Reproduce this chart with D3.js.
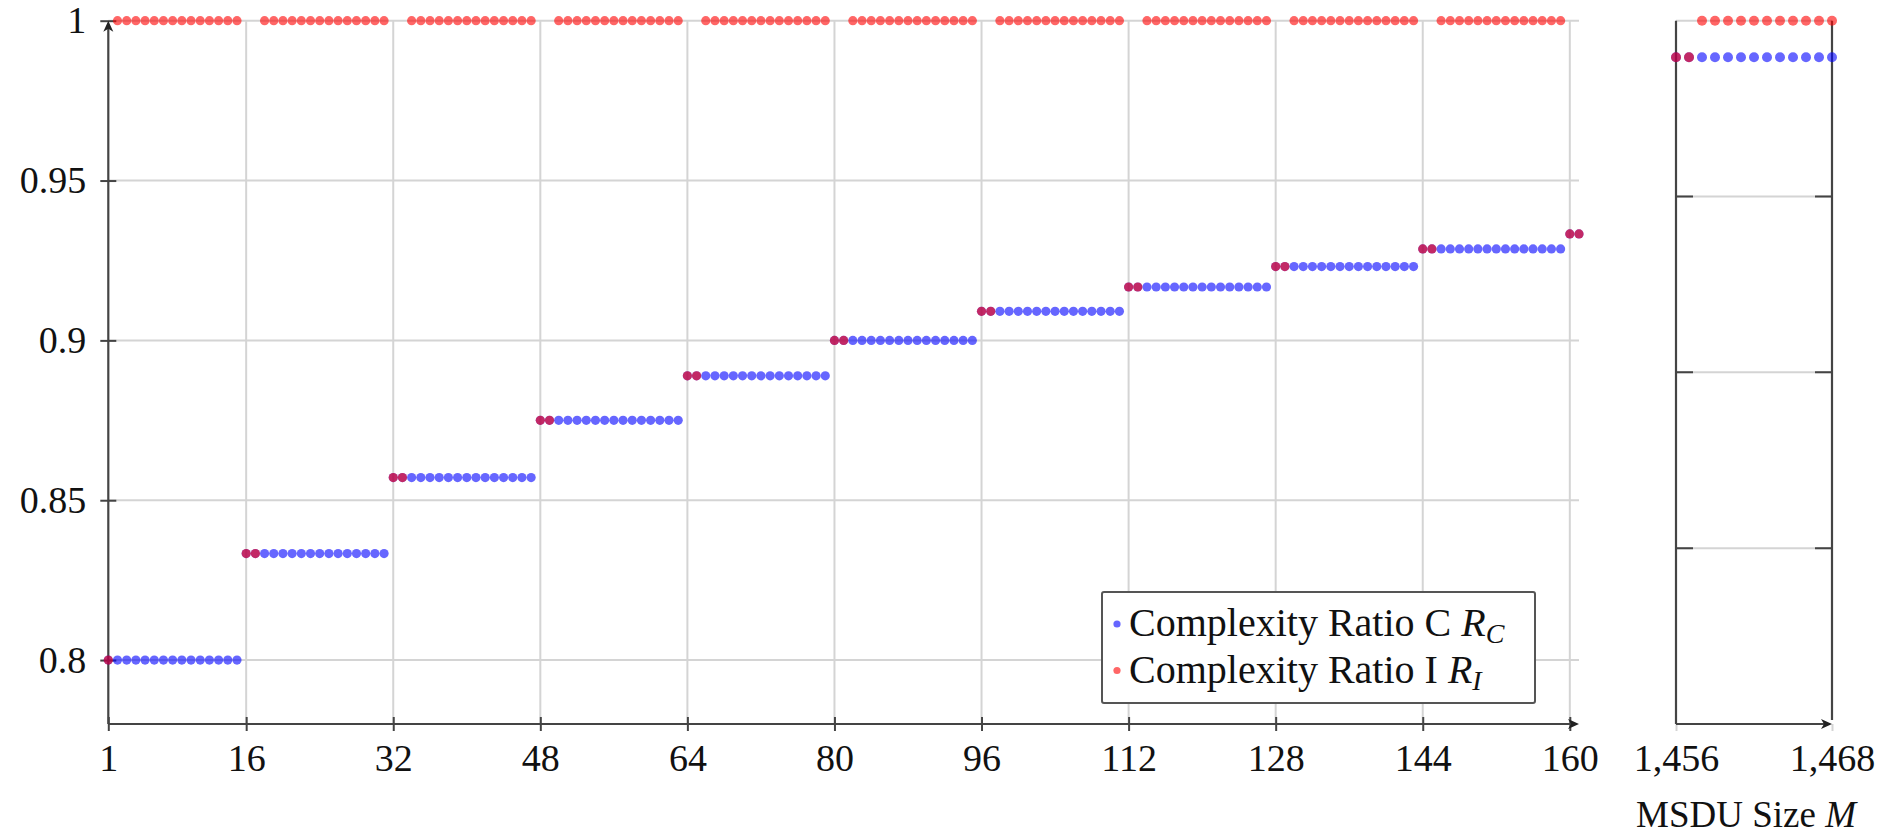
<!DOCTYPE html>
<html>
<head>
<meta charset="utf-8">
<script src="https://cdn.jsdelivr.net/npm/d3@7"></script>
<style>
  body { margin: 0; background: #fff; }
  svg text { font-family: "Liberation Serif", "Times New Roman", serif; }
</style>
</head>
<body>
<svg width="1886" height="837"></svg>
<script>
// main panel: each step block of M (first M, last M) and its ratio level
const blockStart = [1, 16, 32, 48, 64, 80, 96, 112, 128, 144, 160];
const blockEnd = [15, 31, 47, 63, 79, 95, 111, 127, 143, 159, 161];
const ratioC = [0.8, 0.8333, 0.8571, 0.875, 0.8889, 0.9, 0.9091, 0.9167, 0.9231, 0.9286, 0.9333];
// number of points at the start of a block where R_I falls to R_C (else R_I = 1)
const dropI = [1, 2, 2, 2, 2, 2, 2, 2, 2, 2, 2];

// zoomed panel near the maximum MSDU size
const zoomStart = [1456];
const zoomEnd = [1468];
const zoomRatioC = [0.9896];
const zoomDropI = [2];

const xTicks = [1, 16, 32, 48, 64, 80, 96, 112, 128, 144, 160];
const zoomXTicks = [1456, 1468];
const yTicks = [0.8, 0.85, 0.9, 0.95, 1];

const blue = '#0000ff';
const red = '#ff0000';
const axisColor = '#444';
const gridColor = '#d4d4d4';
const font = '"Liberation Serif", "Times New Roman", serif';

// turn step blocks into one point per integer M
const expand = (starts, ends, levels, drops) => {
  const c = [], i = [];
  starts.forEach((s, k) => {
    for (let m = s; m <= ends[k]; m++) {
      c.push([m, levels[k]]);
      i.push([m, m - s < drops[k] ? levels[k] : 1]);
    }
  });
  return { c, i };
};
const main = expand(blockStart, blockEnd, ratioC, dropI);
const zoom = expand(zoomStart, zoomEnd, zoomRatioC, zoomDropI);

const svg = d3.select('svg');

const plotTop = 20.7;
const plotBottom = 724;

const x = d3.scaleLinear().domain([1, 161]).range([108.3, 1579]);
const y = d3.scaleLinear().domain([0.78, 1]).range([plotBottom, plotTop]);
const x2 = d3.scaleLinear().domain([1456, 1468]).range([1676, 1832]);
const y2 = d3.scaleLinear().domain([0.8, 1]).range([plotBottom, plotTop]);

const arrow = (g, tx, ty, dir) => {
  // small latex-like arrow head, tip at (tx, ty)
  const p = dir === 'up'
    ? `M${tx},${ty} L${tx - 5},${ty + 11} L${tx},${ty + 8} L${tx + 5},${ty + 11} Z`
    : `M${tx},${ty} L${tx - 11},${ty - 5} L${tx - 8},${ty} L${tx - 11},${ty + 5} Z`;
  g.append('path').attr('d', p).attr('fill', '#222');
};

// ---------- main panel ----------
const chart = svg.append('g');

// grid
chart.append('g')
  .selectAll('line')
  .data(xTicks.filter(d => d !== 1))
  .join('line')
  .attr('x1', d => x(d)).attr('x2', d => x(d))
  .attr('y1', y(0.78)).attr('y2', y(1))
  .attr('stroke', gridColor).attr('stroke-width', 2);
chart.append('g')
  .selectAll('line')
  .data(yTicks)
  .join('line')
  .attr('x1', x(1)).attr('x2', x(161))
  .attr('y1', d => y(d)).attr('y2', d => y(d))
  .attr('stroke', gridColor).attr('stroke-width', 2);

// x axis
const xAxis = chart.append('g')
  .attr('transform', `translate(0, ${plotBottom})`)
  .call(d3.axisBottom(x).tickValues(xTicks).tickSize(7).tickPadding(13).tickFormat(d3.format('d')));
// y axis
const yAxis = chart.append('g')
  .attr('transform', `translate(${x(1)}, 0)`)
  .call(d3.axisLeft(y).tickValues(yTicks).tickSize(8).tickPadding(14).tickFormat(d => String(d)));

[xAxis, yAxis].forEach(a => {
  a.attr('font-family', font).attr('font-size', 38);
  a.select('.domain').remove();
  a.selectAll('.tick line').attr('stroke', axisColor).attr('stroke-width', 2);
  a.selectAll('.tick text').attr('fill', '#111');
});
xAxis.selectAll('.tick line').attr('y1', -7);
yAxis.selectAll('.tick line').attr('x2', 8).attr('x1', -8);

chart.append('line')
  .attr('x1', x(1)).attr('x2', x(161) - 6)
  .attr('y1', plotBottom).attr('y2', plotBottom)
  .attr('stroke', axisColor).attr('stroke-width', 2.2);
chart.append('line')
  .attr('x1', x(1)).attr('x2', x(1))
  .attr('y1', plotBottom).attr('y2', plotTop + 6)
  .attr('stroke', axisColor).attr('stroke-width', 2.2);
arrow(chart, x(161), plotBottom, 'right');
arrow(chart, x(1), plotTop, 'up');

// points
const r = 4.6;
chart.append('g')
  .selectAll('circle')
  .data(main.c)
  .join('circle')
  .attr('cx', d => x(d[0])).attr('cy', d => y(d[1])).attr('r', r)
  .attr('fill', blue).attr('fill-opacity', 0.6);
chart.append('g')
  .selectAll('circle')
  .data(main.i)
  .join('circle')
  .attr('cx', d => x(d[0])).attr('cy', d => y(d[1])).attr('r', r)
  .attr('fill', red).attr('fill-opacity', 0.6);

// legend
const legend = chart.append('g').attr('transform', 'translate(1102, 592)');
legend.append('rect')
  .attr('width', 433).attr('height', 111).attr('rx', 2)
  .attr('fill', '#fff').attr('stroke', '#555').attr('stroke-width', 2);
const legendItems = [
  { color: blue, name: 'Complexity Ratio C ', sub: 'C' },
  { color: red, name: 'Complexity Ratio I ', sub: 'I' },
];
legendItems.forEach((it, k) => {
  const row = legend.append('g').attr('transform', `translate(0, ${32 + k * 46.5})`);
  row.append('circle').attr('cx', 15).attr('cy', 0).attr('r', 3.6)
    .attr('fill', it.color).attr('fill-opacity', 0.6);
  const t = row.append('text')
    .attr('x', 27).attr('y', 12)
    .attr('font-size', 40).attr('fill', '#111');
  t.append('tspan').text(it.name);
  t.append('tspan').attr('font-style', 'italic').text('R');
  t.append('tspan').attr('font-style', 'italic').attr('font-size', 28).attr('dy', 7).text(it.sub);
});

// ---------- zoomed panel ----------
const zchart = svg.append('g');

zchart.append('g')
  .selectAll('line')
  .data(yTicks.filter(d => d > 0.8))
  .join('line')
  .attr('x1', x2(1456)).attr('x2', x2(1468))
  .attr('y1', d => y2(d)).attr('y2', d => y2(d))
  .attr('stroke', gridColor).attr('stroke-width', 2);
// inward tick marks on both sides
zchart.append('g')
  .selectAll('path')
  .data(yTicks.filter(d => d > 0.8 && d < 1))
  .join('path')
  .attr('d', d => `M${x2(1456)},${y2(d)}h17M${x2(1468)},${y2(d)}h-17`)
  .attr('stroke', axisColor).attr('stroke-width', 2);

const x2Axis = zchart.append('g')
  .attr('transform', `translate(0, ${plotBottom})`)
  .call(d3.axisBottom(x2).tickValues(zoomXTicks).tickSize(7).tickPadding(13).tickFormat(d3.format(',')));
x2Axis.attr('font-family', font).attr('font-size', 38);
x2Axis.select('.domain').remove();
x2Axis.selectAll('.tick line').attr('stroke', gridColor).attr('stroke-width', 2).attr('y1', 0);
x2Axis.selectAll('.tick text').attr('fill', '#111');

zchart.append('line')
  .attr('x1', x2(1456)).attr('x2', x2(1468) - 6)
  .attr('y1', plotBottom).attr('y2', plotBottom)
  .attr('stroke', axisColor).attr('stroke-width', 2.2);
zchart.append('line')
  .attr('x1', x2(1456)).attr('x2', x2(1456))
  .attr('y1', plotBottom).attr('y2', plotTop)
  .attr('stroke', axisColor).attr('stroke-width', 2.2);
zchart.append('line')
  .attr('x1', x2(1468)).attr('x2', x2(1468))
  .attr('y1', plotBottom - 4).attr('y2', plotTop)
  .attr('stroke', axisColor).attr('stroke-width', 2.2);
arrow(zchart, x2(1468), plotBottom, 'right');

zchart.append('g')
  .selectAll('circle')
  .data(zoom.c)
  .join('circle')
  .attr('cx', d => x2(d[0])).attr('cy', d => y2(d[1])).attr('r', 5)
  .attr('fill', blue).attr('fill-opacity', 0.6);
zchart.append('g')
  .selectAll('circle')
  .data(zoom.i)
  .join('circle')
  .attr('cx', d => x2(d[0])).attr('cy', d => y2(d[1])).attr('r', 5)
  .attr('fill', red).attr('fill-opacity', 0.6);

// axis label
const label = svg.append('text')
  .attr('x', 1636).attr('y', 827)
  .attr('font-size', 37).attr('fill', '#111');
label.append('tspan').text('MSDU Size ');
label.append('tspan').attr('font-style', 'italic').text('M');
</script>
</body>
</html>
